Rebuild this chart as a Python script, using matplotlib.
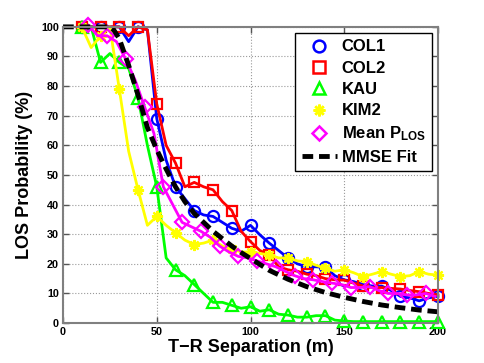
#!/usr/bin/env python3

import numpy as np
from matplotlib import pyplot as plt
from matplotlib.lines import Line2D

plt.rcParams['font.family'] = ['Liberation Sans', 'DejaVu Sans']
plt.rcParams['font.weight'] = 'bold'
plt.rcParams['mathtext.fontset'] = 'custom'
plt.rcParams['mathtext.rm'] = 'Liberation Sans:bold'
plt.rcParams['mathtext.bf'] = 'Liberation Sans:bold'

# separation distance (m) for the measured sets
dist = np.arange(10, 201, 5)

col1 = [100, 100, 100, 100, 100, 95, 100, 99,
        69, 55, 46, 42, 38, 36.5, 36, 34, 32, 31,
        33, 29.8, 27, 24.5, 22, 20, 19, 19, 18.8, 16,
        14.6, 14, 13, 12.5, 12.5, 11, 9, 8.5, 7.5, 8.5,
        9]
col2 = [100, 100, 100, 100, 100, 97, 100, 99,
        74, 60, 54, 46, 47.5, 46, 45, 41, 38, 31,
        27.5, 24.5, 23, 19, 18, 17.5, 16.5, 16, 15, 14.6,
        14.5, 13.5, 12.5, 12, 12, 11.7, 11.5, 11, 10.6, 10,
        9.5]
kau = [100, 100, 88, 91, 88, 86, 76, 60,
       46, 22, 18, 16, 13, 10, 7, 7, 6, 5,
       5.5, 4, 4.5, 3, 2.7, 2, 2, 2.5, 2.5, 1,
       0.7, 0.5, 0.5, 0.5, 0.5, 0.5, 0.5, 0.5, 0.5, 0.5,
       0.5]
kim2 = [100, 93, 97, 100, 79, 58, 45, 33,
        36, 33, 30.5, 28, 26.5, 27, 28, 26, 25, 24,
        24, 23.5, 23, 22, 22, 21, 20.7, 19.5, 18.5, 17.5,
        18, 17, 15.7, 16.5, 17.4, 16.5, 15.7, 16, 17.4, 16.5,
        16.2]

# mean P_LOS is sampled on its own grid
dist_mean = np.arange(13.5, 199, 5)
mean_plos = [100.5, 97, 97, 95, 89, 82, 73, 64,
             46, 40, 34, 32.5, 31, 29, 26, 24, 22.5, 22,
             21, 20, 19, 17.5, 16, 15, 14.6, 14, 13.5, 13,
             12, 12, 12.3, 11, 10, 10, 9.5, 9.5, 10, 9]

# MMSE fit
dist_fit = [0, 10, 20, 25, 27, 30, 35, 40, 45, 50, 55, 60, 65, 70, 75, 80, 85,
            90, 95, 100, 110, 120, 130, 140, 150, 160, 170, 180, 190, 200]
mmse_fit = [100, 100, 100, 100, 99, 96, 87, 77, 66, 58.5, 52, 46, 41, 37, 34, 31,
            28.5, 26, 23.8, 21.8, 17.8, 14.8, 12.3, 10.3, 8.7, 7.3, 6.1, 5.2, 4.4, 3.8]

series = [
    ('COL1', dist, col1, '#0000ff', 'o', 8),
    ('COL2', dist, col2, '#ff0000', 's', 7.5),
    ('KAU', dist, kau, '#00ff00', '^', 8),
    ('KIM2', dist, kim2, '#ffff00', (8, 2, 0), 8),
    ('Mean $\\mathbf{P_{LOS}}$', dist_mean, mean_plos, '#ff00ff', 'D', 7),
]

fig = plt.figure(figsize=(4.85, 3.63), dpi=100)
ax = fig.add_axes([0.130, 0.110, 0.773, 0.816])

handles = []
for name, xs, ys, color, mk, ms in series:
    ax.plot(xs, ys, color=color, lw=2, marker=mk, ms=ms, mew=1.6,
            mfc='none', markevery=2, clip_on=False)
    handles.append(Line2D([], [], ls='none', color=color, marker=mk, ms=ms + 0.5,
                          mew=1.8, mfc='none', label=name))

ax.plot(dist_fit, mmse_fit, color='k', lw=3.5, dashes=(2.2, 1.2), clip_on=False)
handles.append(Line2D([], [], color='k', lw=3.5, dashes=(2.2, 1.2), label='MMSE Fit'))

ax.set_xlim(0, 200)
ax.set_ylim(0, 100)
ax.set_xticks([0, 50, 100, 150, 200])
ax.set_yticks(np.arange(0, 101, 10))
ax.grid(True, ls=':', color='#9a9a9a', lw=0.8)
ax.tick_params(direction='in', length=4, width=1, color='#555555',
               top=True, right=True, labelsize=7.8, pad=3)
for s in ax.spines.values():
    s.set_color('#808080')
    s.set_linewidth(1.5)

ax.set_xlabel('T\u2212R Separation (m)', fontsize=13, fontweight='bold', labelpad=1)
ax.set_ylabel('LOS Probability (%)', fontsize=13, fontweight='bold', labelpad=6)

leg = ax.legend(handles=handles, loc='upper right', fontsize=12, frameon=True,
                fancybox=False, edgecolor='k', framealpha=1, handlelength=2.1,
                labelspacing=0.38, borderaxespad=0.35, handletextpad=0.3,
                borderpad=0.4)
leg.get_frame().set_linewidth(1)

fig.savefig('out.png', dpi=100)
